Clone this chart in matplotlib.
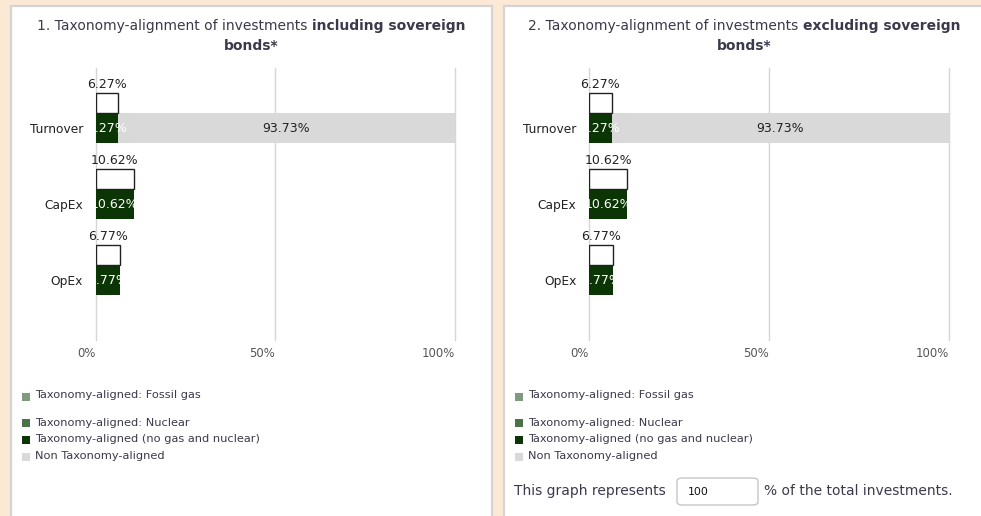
import matplotlib
matplotlib.use("Agg")
import matplotlib.pyplot as plt
from matplotlib.patches import Rectangle, FancyBboxPatch

# ---------------- data ----------------
categories = ["Turnover", "CapEx", "OpEx"]
fossil_gas = [0.0, 0.0, 0.0]
nuclear = [0.0, 0.0, 0.0]
aligned_no_gas_nuclear = [6.27, 10.62, 6.77]
non_aligned = [93.73, 0.0, 0.0]
total_aligned = [6.27, 10.62, 6.77]
x_ticks = [0, 50, 100]
x_tick_labels = ["0%", "50%", "100%"]
legend_labels = ["Taxonomy-aligned: Fossil gas", "Taxonomy-aligned: Nuclear",
                 "Taxonomy-aligned (no gas and nuclear)", "Non Taxonomy-aligned"]
titles_regular = ["1. Taxonomy-alignment of investments ",
                  "2. Taxonomy-alignment of investments "]
titles_bold = [("including sovereign", "bonds*"), ("excluding sovereign", "bonds*")]
share_of_total = "100"

# ---------------- style ----------------
W, H = 981, 516
BG = "#fbe8d5"
C_FOSSIL = "#7f9a7d"
C_NUCLEAR = "#4d7148"
C_DARK = "#0b3505"
C_GRAY = "#d9d9d9"
TXT = "#3a3a4c"

fig = plt.figure(figsize=(W / 100, H / 100), dpi=100, facecolor=BG)


def fx(px):
    return px / W


def fy(py):
    return 1 - py / H


# panels
panel_x = [11, 504]
panel_w = 481
for px in panel_x:
    fig.patches.append(Rectangle((fx(px), fy(560)), fx(panel_w), (560 - 6) / H,
                                 transform=fig.transFigure, facecolor="white",
                                 edgecolor="#d4d4d4", linewidth=1.6, zorder=-5))

renderer = fig.canvas.get_renderer()

offsets = [0, 493.5]
for k, off in enumerate(offsets):
    # ---- title (mixed weights) ----
    cx = panel_x[k] + panel_w / 2
    t1 = fig.text(0, fy(26), titles_regular[k], fontsize=10, color=TXT, va="center", ha="left")
    t2 = fig.text(0, fy(26), titles_bold[k][0], fontsize=10, color=TXT, va="center",
                  ha="left", fontweight="bold")
    w1 = t1.get_window_extent(renderer).width
    w2 = t2.get_window_extent(renderer).width
    start = cx - (w1 + w2) / 2
    t1.set_x(fx(start))
    t2.set_x(fx(start + w1))
    fig.text(fx(cx), fy(46), titles_bold[k][1], fontsize=10, color=TXT, va="center",
             ha="center", fontweight="bold")

    # ---- axes ----
    left_px = 95.5 + off
    right_px = 455 + off
    top_px, bot_px = 68, 340
    ax = fig.add_axes([fx(left_px), fy(bot_px), fx(right_px - left_px), (bot_px - top_px) / H])
    ax.set_zorder(2)
    ax.set_facecolor("none")
    ax.set_xlim(0, 100)
    span = (bot_px - top_px) / 76.0
    top_u = (128 - top_px) / 76.0
    ax.set_ylim(span - top_u, -top_u)
    for s in ax.spines.values():
        s.set_visible(False)
    ax.set_xticks(x_ticks)
    ax.set_xticklabels([])
    ax.tick_params(axis="x", length=0)
    ax.tick_params(axis="y", length=0, pad=9)
    ax.set_yticks(range(len(categories)))
    ax.set_yticklabels(categories, fontsize=8.8, color="#222222")
    ax.grid(axis="x", color="#d6d6d6", linewidth=1.0, zorder=0)
    for gl in ax.get_xgridlines():
        gl.set_clip_on(False)
    ax.set_axisbelow(True)
    for xt, lab in zip(x_ticks, x_tick_labels):
        ax.annotate(lab, xy=(xt, 0), xycoords=("data", "axes fraction"),
                    xytext=(0, -9.5), textcoords="offset points", ha="right", va="center",
                    fontsize=8.4, color="#555555", annotation_clip=False)

    ypos = list(range(len(categories)))
    bh = 30 / 76.0
    left = [0.0] * 3
    for vals, col in [(fossil_gas, C_FOSSIL), (nuclear, C_NUCLEAR),
                      (aligned_no_gas_nuclear, C_DARK), (non_aligned, C_GRAY)]:
        ax.barh(ypos, vals, left=left, height=bh, color=col, zorder=2, linewidth=0)
        left = [a + b for a, b in zip(left, vals)]

    # outline boxes for total aligned
    oh = 20 / 76.0
    oy = [y - 25 / 76.0 for y in ypos]
    ax.barh(oy, total_aligned, height=oh, color="white", edgecolor="#222222",
            linewidth=1.0, zorder=3)

    for i in range(len(categories)):
        v = total_aligned[i]
        ax.text(v / 2, oy[i] - oh / 2 - 2 / 76.0, f"{v:.2f}%", ha="center", va="bottom",
                fontsize=9.0, color="#222222", zorder=4)
        a = aligned_no_gas_nuclear[i]
        if a > 0:
            ax.text(a / 2, ypos[i], f"{a:.2f}%", ha="center", va="center",
                    fontsize=9.0, color="white", zorder=4)
        n = non_aligned[i]
        if n > 0:
            ax.text(a + n / 2, ypos[i], f"{n:.2f}%", ha="center", va="center",
                    fontsize=9.0, color="#222222", zorder=4)

    # ---- legend ----
    leg_sq_x = 21.5 + off
    leg_y = [397, 423, 440, 457]
    leg_cols = [C_FOSSIL, C_NUCLEAR, C_DARK, C_GRAY]
    text_y = [395, 423, 439, 456]
    for lab, col, sy, ty in zip(legend_labels, leg_cols, leg_y, text_y):
        fig.patches.append(Rectangle((fx(leg_sq_x), fy(sy + 4)), fx(8), 8 / H,
                                     transform=fig.transFigure, facecolor=col,
                                     edgecolor="none", zorder=2))
        fig.text(fx(35 + off), fy(ty), lab, fontsize=8.2, color=TXT, va="center", ha="left")

# ---- share of total investments (panel 2) ----
fig.text(fx(514), fy(491), "This graph represents", fontsize=10, color=TXT,
         va="center", ha="left")
fig.patches.append(FancyBboxPatch((fx(677), fy(505)), fx(81), 27 / H,
                                  boxstyle="round,pad=0,rounding_size=0.006",
                                  transform=fig.transFigure, facecolor="white",
                                  edgecolor="#c6c6c6", linewidth=1.0, zorder=2))
fig.text(fx(688), fy(492), share_of_total, fontsize=7.8, color="#111111",
         va="center", ha="left")
fig.text(fx(764), fy(491), "% of the total investments.", fontsize=10, color=TXT,
         va="center", ha="left")

fig.savefig("out.png", dpi=100, facecolor=BG)
